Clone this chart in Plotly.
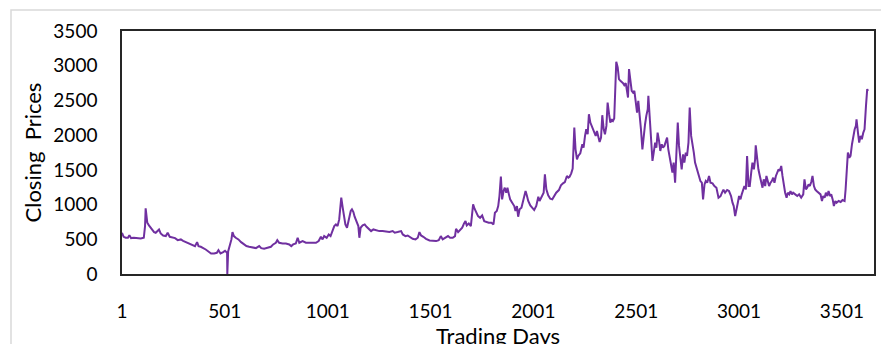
import plotly.graph_objects as go

trading_days = [
    1, 9, 19, 30, 37, 45, 59, 76, 92, 107, 113, 116, 119, 124, 132, 141, 149, 157, 165, 173,
    181, 189, 201, 214, 223, 233, 246, 259, 272, 287, 298, 311, 327, 343, 356, 366, 373, 384, 395, 408,
    421, 434, 449, 462, 470, 480, 493, 502, 512, 513, 517, 525, 533, 538, 545, 554, 567, 580, 593, 606,
    619, 635, 652, 668, 678, 692, 709,
    725, 736, 749, 756, 765, 782, 798, 814, 824, 833, 846, 855, 863, 879, 895, 911, 928, 944, 957, 968,
    976, 984, 996, 1006, 1015, 1025, 1033, 1041, 1049, 1057, 1062, 1067, 1074, 1080, 1087, 1095, 1103, 1113, 1119, 1126,
    1132, 1142, 1150, 1155, 1161, 1171, 1181, 1190, 1200, 1212, 1223, 1236, 1252, 1268, 1285, 1301, 1317, 1327, 1341, 1358,
    1366, 1379, 1390, 1402, 1414, 1428, 1439, 1447, 1455,
    1466, 1479, 1496, 1512, 1528, 1541, 1551, 1560, 1573, 1586, 1596, 1609, 1620, 1625, 1635, 1645, 1655, 1664, 1671, 1677,
    1687, 1697, 1703, 1708, 1715, 1723, 1732, 1742, 1752, 1762, 1771, 1784, 1797, 1807, 1814, 1823, 1830, 1836, 1843, 1849,
    1856, 1862, 1869, 1875, 1882, 1888, 1898, 1908, 1914, 1921, 1927, 1934, 1943, 1953, 1963, 1969, 1976, 1986, 1995, 2005,
    2015, 2025, 2031, 2041, 2051, 2057, 2064, 2073, 2083, 2093, 2102, 2112, 2125, 2135, 2145, 2154, 2164, 2171,
    2177, 2185, 2192, 2197, 2200,
    2206, 2213, 2219, 2229, 2239, 2245, 2252, 2258, 2265, 2271, 2278, 2284, 2291, 2297, 2304, 2310, 2317, 2323, 2330, 2336,
    2343, 2349, 2356, 2362, 2369, 2375, 2382, 2388, 2394, 2399, 2404, 2411, 2417, 2424, 2430, 2437, 2443, 2450, 2456, 2461,
    2466, 2472, 2479, 2485, 2492, 2498, 2505, 2511, 2518, 2524, 2531, 2537, 2544, 2550, 2557, 2560, 2567, 2573, 2580, 2586,
    2593, 2599, 2605, 2612, 2618, 2625, 2631, 2638, 2644, 2651, 2657, 2664, 2670, 2677, 2683, 2690, 2696, 2703, 2709, 2716,
    2722, 2729, 2735, 2742, 2748, 2755, 2761, 2768, 2774, 2781, 2787, 2794, 2800, 2807, 2813, 2820, 2826, 2833, 2839, 2846,
    2855, 2862, 2872, 2881, 2891, 2901, 2911, 2918, 2925, 2933, 2943, 2952, 2962, 2969, 2975, 2982, 2988, 2995,
    3001, 3008, 3014, 3021, 3027, 3034, 3040, 3047, 3053, 3060, 3066, 3073, 3079, 3082, 3089, 3095, 3102, 3108, 3115, 3121,
    3128, 3134, 3141, 3147, 3154, 3160, 3167, 3173, 3180, 3186, 3193, 3199, 3206, 3212, 3219, 3225, 3232, 3238, 3245, 3251,
    3258, 3264, 3274, 3284, 3293, 3303, 3313, 3319, 3326, 3332, 3339, 3345, 3352, 3358, 3365, 3371, 3378, 3387, 3397, 3404,
    3410, 3417, 3423, 3430, 3436, 3443, 3449, 3456, 3462, 3469, 3475, 3485, 3495, 3504, 3514, 3519, 3524, 3530, 3537, 3543,
    3550, 3556, 3563, 3569, 3572, 3579, 3585, 3592, 3598, 3605, 3611, 3618, 3624, 3628,
]

closing_prices = [
    594, 536, 522, 522, 560, 517, 522, 512, 512, 522, 690, 945, 834, 738, 700, 666, 642, 604, 594, 618,
    642, 584, 555, 546, 594, 536, 522, 517, 488, 498, 478, 459, 435, 411, 402, 459, 402, 392, 378, 353,
    325, 296, 296, 305, 344, 296, 315, 334, 305, 0, 325, 402, 498, 604, 546, 522, 498, 459, 430, 402,
    392, 382, 373, 402, 373, 363, 373,
    392, 426, 450, 488, 450, 440, 440, 426, 402, 426, 440, 522, 450, 474, 450, 450, 450, 450, 474, 536,
    498, 546, 522, 570, 546, 618, 690, 714, 690, 786, 979, 1099, 955, 834, 714, 666, 786, 907, 931, 892,
    825, 762, 690, 522, 666, 700, 714, 680, 652, 618, 642, 632, 618, 618, 608, 604, 618, 594, 604, 618,
    570, 546, 555, 536, 507, 498, 522, 604, 555,
    536, 507, 483, 474, 474, 488, 546, 498, 522, 546, 522, 522, 546, 651, 603, 642, 666, 728, 762, 700,
    728, 690, 834, 1003, 940, 882, 834, 810, 844, 762, 748, 738, 738, 714, 882, 907, 979, 1123, 1402, 1075,
    1195, 1243, 1171, 1243, 1147, 1075, 1027, 979, 907, 979, 825, 931, 955, 1075, 1195, 1133, 1051, 988, 955, 921,
    979, 1113, 1051, 1123, 1171, 1436, 1219, 1133, 1085, 1075, 1123, 1171, 1209, 1277, 1306, 1325, 1412, 1388,
    1400, 1450, 1520, 1800, 2109,
    1796, 1652, 1700, 1739, 1869, 1820, 1989, 2085, 2013, 2301, 2181, 2133, 2085, 2037, 1989, 2061, 1989, 1902, 1965, 2287,
    2085, 2013, 2133, 2470, 2301, 2181, 2229, 2205, 2239, 2662, 3057, 2975, 2806, 2782, 2768, 2749, 2720, 2749, 2638, 2542,
    2951, 2758, 2638, 2614, 2638, 2494, 2325, 2494, 2301, 2085, 1796, 1989, 2157, 2277, 2374, 2566, 2277, 1941, 1628, 1748,
    1893, 1820, 2037, 1917, 1772, 1869, 1820, 1845, 1893, 1965, 1796, 1700, 1580, 1460, 1604, 1315, 1869, 2181, 1845, 1628,
    1508, 1724, 1604, 1748, 1700, 1893, 2398, 1989, 1893, 1748, 1604, 1532, 1460, 1412, 1339, 1315, 1075, 1291, 1339, 1315,
    1412, 1315, 1306, 1267, 1243, 1099, 1123, 1171, 1215, 1171, 1210, 1195, 1123, 1027, 979, 834, 907, 1027,
    1123, 1075, 1147, 1219, 1267, 1219, 1700, 1267, 1267, 1460, 1604, 1508, 1652, 1854, 1604, 1508, 1412, 1315, 1243, 1364,
    1267, 1412, 1315, 1267, 1315, 1339, 1388, 1315, 1412, 1460, 1508, 1484, 1556, 1412, 1267, 1171, 1099, 1171, 1147, 1195,
    1147, 1171, 1147, 1123, 1147, 1099, 1147, 1364, 1219, 1243, 1291, 1267, 1325, 1412, 1267, 1219, 1195, 1171, 1147, 1051,
    1123, 1099, 1171, 1123, 1195, 1123, 1147, 1075, 979, 1051, 1027, 1051, 1037, 1065, 1051, 1219, 1556, 1748, 1676, 1700,
    1869, 1989, 2085, 2133, 2229, 2037, 1893, 1989, 1941, 2037, 2085, 2422, 2662, 2638,
]

x_tick_values = [1, 501, 1001, 1501, 2001, 2501, 3001, 3501]
y_tick_values = [0, 500, 1000, 1500, 2000, 2500, 3000, 3500]

# page offset from the default body margin (8 px)
OFF = 8
W, H = 889 - OFF, 344 - OFF
L, R, T, B = 122 - OFF, 15, 31 - OFF, 70
pw, ph = W - L - R, H - T - B

FONT = "Lato"

fig = go.Figure()
fig.add_trace(go.Scatter(
    x=trading_days, y=closing_prices, mode="lines",
    line=dict(color="#7030A0", width=2),
    showlegend=False, hoverinfo="x+y",
))

fig.update_layout(
    width=W, height=H,
    margin=dict(l=L, r=R, t=T, b=B, autoexpand=False),
    paper_bgcolor="white", plot_bgcolor="white",
    font=dict(family=FONT, size=19, color="#000000"),
    xaxis=dict(
        range=[1, 3657], tickmode="array", tickvals=x_tick_values,
        ticktext=[str(v) for v in x_tick_values],
        showgrid=False, zeroline=False,
        showline=True, linecolor="#262626", linewidth=1.5, mirror=True,
        ticks="outside", ticklen=19, tickcolor="rgba(0,0,0,0)",
        tickfont=dict(family=FONT, size=19),
    ),
    yaxis=dict(
        range=[0, 3500], tickmode="array", tickvals=y_tick_values,
        showgrid=False, zeroline=False,
        showline=True, linecolor="#262626", linewidth=1.5, mirror=True,
        ticks="outside", ticklen=19, tickcolor="rgba(0,0,0,0)",
        tickfont=dict(family=FONT, size=19),
    ),
    annotations=[
        dict(text="Trading Days", xref="paper", yref="paper",
             x=0.5, y=-(335 - OFF - (T + ph)) / ph, xanchor="center", yanchor="middle",
             showarrow=False, font=dict(family=FONT, size=22)),
        dict(text="Closing  Prices", xref="paper", yref="paper",
             x=-(L - (32 - OFF)) / pw, y=0.5, xanchor="center", yanchor="middle",
             textangle=-90, showarrow=False, font=dict(family=FONT, size=22)),
    ],
    shapes=[
        dict(type="rect", xref="paper", yref="paper",
             x0=-(L - (11 - OFF)) / pw, x1=(W + 5 - L) / pw,
             y0=-(H + 10 - T - ph) / ph, y1=(T + ph - (10 - OFF)) / ph,
             line=dict(color="#d9d9d9", width=1.5), layer="below"),
    ],
)

fig.write_html("out.html")
